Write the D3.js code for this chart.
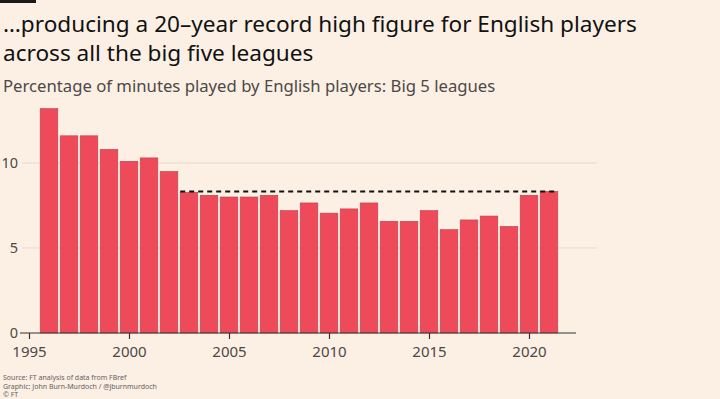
<!DOCTYPE html>
<html>
<head>
<meta charset="utf-8">
<script src="https://cdn.jsdelivr.net/npm/d3@7"></script>
<style>
  body { margin: 0; background: #fcf0e5; }
  text { font-family: "Noto Sans", sans-serif; }
</style>
</head>
<body>
<div class="chart"></div>
<script>
// Data: share of minutes played by English players, Big 5 leagues (%)
var years = [1996, 1997, 1998, 1999, 2000, 2001, 2002, 2003, 2004, 2005, 2006, 2007, 2008,
  2009, 2010, 2011, 2012, 2013, 2014, 2015, 2016, 2017, 2018, 2019, 2020, 2021];
var shares = [13.2, 11.6, 11.6, 10.8, 10.1, 10.3, 9.5, 8.27, 8.1, 8.0, 8.0, 8.1, 7.2,
  7.65, 7.05, 7.3, 7.65, 6.57, 6.57, 7.2, 6.08, 6.65, 6.88, 6.27, 8.1, 8.33];
var yTicks = [0, 5, 10];
var xTicks = [1995, 2000, 2005, 2010, 2015, 2020];
var recordLevel = 8.33;
var recordFrom = 2003;

var svgWidth = 720;
var svgHeight = 399;
var zeroY = 333;

var svg = d3.select(".chart")
  .append("svg")
  .attr("width", svgWidth)
  .attr("height", svgHeight);

svg.append("rect")
  .attr("width", svgWidth)
  .attr("height", svgHeight)
  .attr("fill", "#fcf0e5");

// little black bar top-left
svg.append("rect")
  .attr("x", 0).attr("y", 0)
  .attr("width", 36).attr("height", 3)
  .attr("fill", "#1a1a1a");

// titles
svg.append("text")
  .attr("x", 3).attr("y", 32)
  .style("font-size", "22.6px")
  .attr("fill", "#111")
  .text("…producing a 20–year record high figure for English players");
svg.append("text")
  .attr("x", 3).attr("y", 61)
  .style("font-size", "22.6px")
  .attr("fill", "#111")
  .text("across all the big five leagues");
svg.append("text")
  .attr("x", 3).attr("y", 92)
  .style("font-size", "16.7px")
  .attr("fill", "#4d4845")
  .text("Percentage of minutes played by English players: Big 5 leagues");

// scales: 20px per year, 1995 at x=29
var x = d3.scaleLinear()
  .domain([1995, 2020])
  .range([29, 529]);

var y = d3.scaleLinear()
  .domain([0, 10])
  .range([zeroY, zeroY - 170]);

// gridlines
svg.selectAll("line.grid")
  .data(yTicks.filter(d => d > 0))
  .enter()
  .append("line")
  .attr("class", "grid")
  .attr("x1", 22)
  .attr("x2", 597)
  .attr("y1", d => y(d))
  .attr("y2", d => y(d))
  .attr("stroke", "#e5d8cc")
  .attr("stroke-width", 1);

// y labels
svg.selectAll("text.ylab")
  .data(yTicks)
  .enter()
  .append("text")
  .attr("class", "ylab")
  .attr("x", 18)
  .attr("y", d => y(d) + 5)
  .attr("text-anchor", "end")
  .style("font-size", "14.5px")
  .attr("fill", "#4d4845")
  .text(d => d);

// bars
var barW = 17.6;
svg.selectAll("rect.bar")
  .data(years)
  .enter()
  .append("rect")
  .attr("class", "bar")
  .attr("x", (d, i) => x(d) - barW / 2)
  .attr("y", (d, i) => y(shares[i]))
  .attr("width", barW)
  .attr("height", (d, i) => y(0) - y(shares[i]))
  .attr("fill", "#ee4a5a")
  .attr("stroke", "#b9404c")
  .attr("stroke-width", 0.6);

// record dashed line
svg.append("line")
  .attr("x1", x(recordFrom) - barW / 2)
  .attr("x2", x(years[years.length - 1]) + barW / 2)
  .attr("y1", y(recordLevel))
  .attr("y2", y(recordLevel))
  .attr("stroke", "#111")
  .attr("stroke-width", 2)
  .attr("stroke-dasharray", "5,4");

// x axis
var xAxis = d3.axisBottom(x)
  .tickValues(xTicks)
  .tickFormat(d3.format("d"))
  .tickSize(6)
  .tickSizeOuter(0);

var axisG = svg.append("g")
  .attr("transform", `translate(0, ${zeroY})`)
  .call(xAxis);
axisG.select(".domain").remove();
axisG.insert("line", ":first-child")
  .attr("x1", 20).attr("x2", 576)
  .attr("stroke", "#333").attr("stroke-width", 1.2);
axisG.selectAll(".tick line").attr("stroke", "#333").attr("stroke-width", 1.2);
axisG.selectAll(".tick text")
  .attr("y", 10)
  .attr("dy", "0.9em")
  .style("font-size", "15px")
  .style("font-family", "'Noto Sans', sans-serif")
  .attr("fill", "#4d4845");

// footer
var footer = ["Source: FT analysis of data from FBref",
  "Graphic: John Burn-Murdoch / @jburnmurdoch",
  "© FT"];
svg.selectAll("text.foot")
  .data(footer)
  .enter()
  .append("text")
  .attr("class", "foot")
  .attr("x", 3)
  .attr("y", (d, i) => 380 + i * 8.5)
  .style("font-size", "7px")
  .attr("fill", "#66605c")
  .text(d => d);
</script>
</body>
</html>
